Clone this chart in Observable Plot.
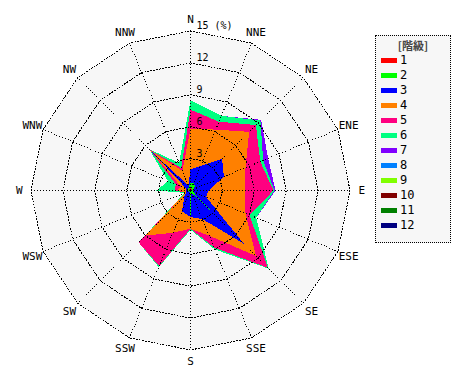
<!DOCTYPE html>
<html>
<head>
<meta charset="utf-8">
<script src="https://cdn.jsdelivr.net/npm/d3@7"></script>
<script src="https://cdn.jsdelivr.net/npm/@observablehq/plot@0.6"></script>
<style>
  body { margin: 0; background: #fff; }
  #wrap { position: relative; width: 470px; height: 380px; }
  #legend { position: absolute; left: 375px; top: 35px; width: 74px; height: 206px;
    border: 1px dotted #000; background: #f7f7f7; font-family: "DejaVu Sans Mono", monospace; font-size: 12px; }
  #legend .title { position: absolute; left: 0; width: 74px; top: 3px; line-height: 13px; text-align: center; font-family: "Noto Sans CJK JP", sans-serif; font-size: 11px; font-weight: bold; color: #444; }
  #legend .sw { position: absolute; left: 5px; width: 16px; height: 5px; }
  #legend .lb { position: absolute; left: 24px; line-height: 12px; color: #000; }
</style>
</head>
<body>
<div id="wrap"></div>
<script>
const dirs = ["N","NNE","NE","ENE","E","ESE","SE","SSE","S","SSW","SW","WSW","W","WNW","NW","NNW"];
const classes = ["1","2","3","4","5","6","7","8","9","10","11","12"];
const colors = ["#ff0000","#00ff00","#0000ff","#ff8000","#ff0080","#00ff80","#8000ff","#0080ff","#80ff00","#800000","#008000","#000080"];
// per-class frequency (%) by direction
const c1  = [0.2,0.2,0.2,0.1,0.1,0.1,0.1,0.1,0.1,0.1,0.1,0.1,0.1,0.1,0.2,0.2];
const c2  = [0.5,0.6,0.4,0.2,0.1,0.1,2.5,0.1,2.3,0.1,0.1,0.1,0.1,0.1,0.1,0.2];
const c3  = [1.3,1.7,3.6,3.1,1.5,1.4,4.5,2.7,0.1,1.9,0.6,0.2,0.2,0.2,4.8,0.1];
const c4  = [3.8,3.7,3.6,2.2,3.4,4.0,1.6,1.7,1.1,2.2,5.2,0.1,0.8,0.6,0.2,1.5];
const c5  = [1.8,0.8,0.9,1.5,2.7,0.4,1.6,1.2,0.0,3.4,0.9,0.0,0.3,0.5,0.1,0.3];
const c6  = [0.9,0.6,0.6,0.3,0.1,0.7,0.1,0.2,0.1,0.1,0.0,0.1,1.7,0.8,0.1,0.5];
const c7  = [0.0,0.0,0.1,0.5,0.1,0.0,0.0,0.0,0.0,0.0,0.0,0.0,0.0,0.0,0.0,0.0];
const c8  = [0,0,0,0,0,0,0,0,0,0,0,0,0,0,0,0];
const c9  = [0,0,0,0,0,0,0,0,0,0,0,0,0,0,0,0];
const c10 = [0,0,0,0,0,0,0,0,0,0,0,0,0,0,0,0];
const c11 = [0,0,0,0,0,0,0,0,0,0,0,0,0,0,0,0];
const c12 = [0,0,0,0,0,0,0,0,0,0,0,0,0,0,0,0];
const ticks = [3,6,9,12,15];
const tickLabels = ["3","6","9","12","15 (%)"];

const series = [c1,c2,c3,c4,c5,c6,c7,c8,c9,c10,c11,c12];
const ang = i => i * Math.PI / 8;
const cum = [];
series.forEach((s, k) => cum.push(s.map((v, i) => v + (k ? cum[k-1][i] : 0))));
const rows = [];
cum.forEach((s, k) => s.forEach((v, i) => rows.push({cls: classes[k], k, dir: dirs[i], r: v, x: v*Math.sin(ang(i)), y: v*Math.cos(ang(i))})));

const ringRows = [];
ticks.forEach(t => dirs.forEach((d, i) => ringRows.push({t, x: t*Math.sin(ang(i)), y: t*Math.cos(ang(i))})));
const spokes = dirs.map((d, i) => ({d, x: 15*Math.sin(ang(i)), y: 15*Math.cos(ang(i))}));
const labelR = 16.1;
const dirLabels = dirs.map((d, i) => ({d, x: labelR*Math.sin(ang(i)), y: labelR*Math.cos(ang(i))}));
const tickRows = ticks.map((t, i) => ({t, label: tickLabels[i]}));

const K = 159.5 / 15;
const classMarks = classes.slice().reverse().map(c => {
  const k = classes.indexOf(c);
  return Plot.line(rows.filter(d => d.k === k), {x: "x", y: "y", fill: colors[k], stroke: "none", curve: "linear-closed", shapeRendering: "crispEdges"});
});

const chart = Plot.plot({
  width: 470, height: 380, margin: 0,
  x: {domain: [-190/K, 280/K], axis: null},
  y: {domain: [-190/K, 190/K], axis: null},
  style: {background: "transparent"},
  marks: [
    Plot.line(ringRows.filter(d => d.t === 15), {x: "x", y: "y", fill: "#f7f7f7", stroke: "none", curve: "linear-closed"}),
    ...classMarks,
    Plot.line(ringRows, {x: "x", y: "y", z: "t", stroke: "#000", strokeWidth: 1, strokeDasharray: "1,2", curve: "linear-closed", shapeRendering: "crispEdges"}),
    Plot.link(spokes, {x1: 0, y1: 0, x2: "x", y2: "y", stroke: "#000", strokeWidth: 1, strokeDasharray: "1,2", shapeRendering: "crispEdges"}),
    Plot.text(tickRows, {x: 0, y: "t", text: "label", dx: 6, dy: -5, textAnchor: "start", fontSize: 10, fontFamily: "DejaVu Sans Mono", fill: "#000"}),
    Plot.text(dirLabels, {x: "x", y: "y", text: "d", fontSize: 11, fontFamily: "DejaVu Sans Mono", fill: "#000"})
  ]
});
const wrap = document.getElementById("wrap");
wrap.appendChild(chart);

const lg = document.createElement("div");
lg.id = "legend";
let html = '<div class="title">[階級]</div>';
classes.forEach((c, i) => {
  const y = 22 + i*15;
  html += `<div class="sw" style="top:${y}px;background:${colors[i]}"></div><div class="lb" style="top:${y-4}px">${c}</div>`;
});
lg.innerHTML = html;
wrap.appendChild(lg);
</script>
</body>
</html>
